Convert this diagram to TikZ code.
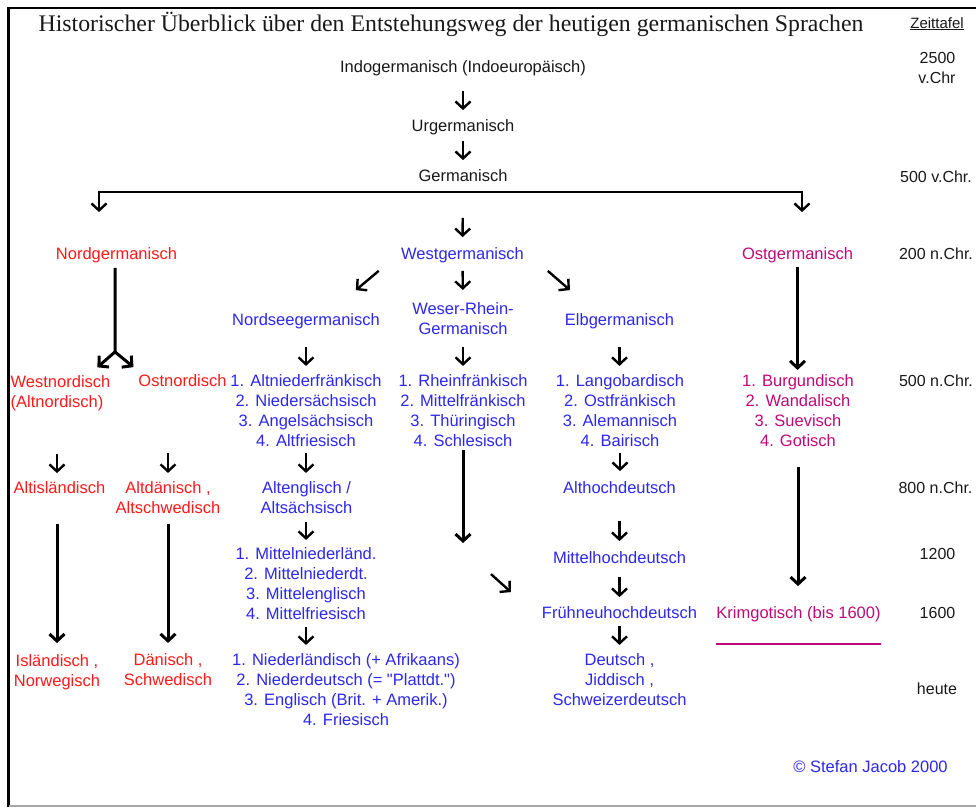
\documentclass[tikz,border=0pt]{standalone}
\usepackage{fontspec}
\setmainfont{Liberation Sans}
\newfontfamily\titlefont{Liberation Serif}
\newfontfamily\qfont{Liberation Sans}
\usetikzlibrary{arrows.meta,calc}
\definecolor{nordc}{RGB}{255,25,25}
\definecolor{westc}{RGB}{45,40,235}
\definecolor{ostc}{RGB}{190,10,120}
\definecolor{timec}{RGB}{25,25,25}
\begin{document}
\begin{tikzpicture}[x=1pt,y=-1pt,
  lbl/.style={inner sep=0pt, outer sep=0pt, font=\fontsize{16.5}{20}\selectfont, align=center},
  one/.style={lbl, text height=11.8pt, text depth=0pt},
  many/.style={lbl},
  nordt/.style={text=nordc}, westt/.style={text=westc}, ostt/.style={text=ostc}, blackt/.style={text=timec},
  timet/.style={one, text=timec, font=\fontsize{16}{20}\selectfont},
  sarr/.style={line width=2.4pt, -{Straight Barb[length=7pt,width=15pt]}},
  larr/.style={line width=3pt, -{Straight Barb[length=7pt,width=15pt]}},
]
\useasboundingbox (0,0) rectangle (976,807);
\fill[white] (0,0) rectangle (976,807);
% frame
\draw[line width=2.5pt] (8.5,807) -- (8.5,8) -- (976,8);
\draw[gray!70, line width=1.5pt] (8.5,806) -- (976,806);

% title and timeline
\node[inner sep=0pt, anchor=base, font=\titlefont\fontsize{23.8}{28}\selectfont, text=timec] (title) at (451,31.5) {Historischer Überblick über den Entstehungsweg der heutigen germanischen Sprachen};
\node[inner sep=0pt, anchor=base, font=\fontsize{15}{16}\selectfont, text=timec] (zt) at (937,28) {\underline{Zeittafel}};
\node[timet] (z2500) at (937.5,57.5) {2500};
\node[timet] (zvchr) at (937,77.5) {v.Chr};
\node[timet] (z500v) at (936,177) {500 v.Chr.};
\node[timet] (z200) at (936,254) {200 n.Chr.};
\node[timet] (z500n) at (936,381) {500 n.Chr.};
\node[timet] (z800) at (935.5,488) {800 n.Chr.};
\node[timet] (z1200) at (937.5,554) {1200};
\node[timet] (z1600) at (937.5,613) {1600};
\node[timet] (zheute) at (937,689) {heute};

% nodes
\node[one,blackt] (indo) at (463,67) {Indogermanisch (Indoeuropäisch)};
\node[one,blackt] (urg) at (463,126) {Urgermanisch};
\node[one,blackt] (germ) at (463,176) {Germanisch};
\node[one,nordt] (nord) at (116.5,254) {Nordgermanisch};
\node[one,westt] (west) at (462.5,254) {Westgermanisch};
\node[one,ostt] (ost) at (797.5,254) {Ostgermanisch};
\node[one,westt] (nordsee) at (306,320) {Nordseegermanisch};
\node[many,westt] (weser) at (463,319) {Weser-Rhein-\\Germanisch};
\node[one,westt] (elb) at (619.5,320) {Elbgermanisch};
\node[many,nordt,anchor=west,align=left] (westnord) at (10.7,393) {Westnordisch\\(Altnordisch)};
\node[one,nordt] (ostnord) at (182.5,381) {Ostnordisch};
\node[many,westt] (altnfr) at (306,411) {1. Altniederfränkisch\\2. Niedersächsisch\\3. Angelsächsisch\\4. Altfriesisch};
\node[many,westt] (rhein) at (463,411) {1. Rheinfränkisch\\2. Mittelfränkisch\\3. Thüringisch\\4. Schlesisch};
\node[many,westt] (lango) at (620,411) {1. Langobardisch\\2. Ostfränkisch\\3. Alemannisch\\4. Bairisch};
\node[many,ostt] (burg) at (798,411) {1. Burgundisch\\2. Wandalisch\\3. Suevisch\\4. Gotisch};
\node[one,nordt] (altisl) at (59.5,488) {Altisländisch};
\node[many,nordt] (altdan) at (168,498) {Altdänisch ,\\Altschwedisch};
\node[many,westt] (alteng) at (306.5,498) {Altenglisch /\\Altsächsisch};
\node[one,westt] (althd) at (619.5,488) {Althochdeutsch};
\node[many,westt] (mittelnl) at (306,584) {1. Mittelniederländ.\\2. Mittelniederdt.\\3. Mittelenglisch\\4. Mittelfriesisch};
\node[one,westt] (mhd) at (619.5,558) {Mittelhochdeutsch};
\node[one,westt] (fnhd) at (619.5,613) {Frühneuhochdeutsch};
\node[one,ostt] (krim) at (798.5,613) {Krimgotisch (bis 1600)};
\node[many,nordt] (isl) at (57,671.75) {Isländisch ,\\Norwegisch};
\node[many,nordt] (dan) at (168,670) {Dänisch ,\\Schwedisch};
\node[many,westt] (nl) at (346,690) {1. Niederländisch (+ Afrikaans)\\2. Niederdeutsch (= {\qfont"}Plattdt.{\qfont"})\\3. Englisch (Brit. + Amerik.)\\4. Friesisch};
\node[many,westt] (deutsch) at (619.5,680) {Deutsch ,\\Jiddisch ,\\Schweizerdeutsch};
\node[one,westt] (copy) at (870.5,767) {© Stefan Jacob 2000};

% connectors
\draw[sarr, shorten <=18pt, shorten >=10pt] (indo.south) -- (urg.north);
\draw[sarr, shorten <=9pt, shorten >=10pt] (urg.south) -- (germ.north);
\coordinate (brL) at (99,192);
\coordinate (brR) at (802,192);
\draw[line width=2.4pt, {Straight Barb[length=7pt,width=15pt]}-{Straight Barb[length=7pt,width=15pt]}, line join=miter, shorten <=36pt, shorten >=36pt] (brL |- nord.north) -- (brL) -- (brR) -- (brR |- ost.north);
\draw[sarr, shorten <=36pt, shorten >=11pt] (germ.south) -- (west.north);
\draw[sarr, shorten <=11pt, shorten >=13pt] (west.south) -- (weser.north);
\draw[sarr] ($(west.south west)+(-22.5,11)$) -- ($(nordsee.north east)+(-24,-24)$);
\draw[sarr] ($(west.south east)+(24,11)$) -- ($(elb.north west)+(5,-24)$);
\draw[sarr, shorten <=21pt, shorten >=9pt] (nordsee.south) -- (nordsee.south |- altnfr.north);
\draw[sarr, shorten <=12pt, shorten >=9pt] (weser.south) -- (rhein.north);
\draw[sarr, shorten <=21pt, shorten >=9pt] (elb.south) -- (elb.south |- lango.north);
\draw[larr, shorten <=7pt, shorten >=5pt] (ost.south) -- (ost.south |- burg.north);
% Nordgermanisch split
\coordinate (nsplit) at ($(nord.south)+(-1.5,92)$);
\draw[larr, line join=miter, shorten <=8pt] (nord.south -| nsplit) -- (nsplit) -- ($(westnord.north east)+(-13,-8)$);
\draw[larr] (nsplit) -- ($(ostnord.north west)+(-5,-8)$);
\draw[sarr, shorten <=43pt, shorten >=9pt] (westnord.south -| isl.north) -- (isl.north |- altisl.north);
\draw[sarr, shorten <=66pt, shorten >=9pt] (ostnord.south -| altdan.north) -- (altdan.north);
\draw[sarr, shorten <=6pt, shorten >=9pt] (altnfr.south) -- (altnfr.south |- alteng.north);
\draw[sarr, shorten <=6pt, shorten >=11pt] (lango.south) -- (lango.south |- althd.north);
\coordinate (rhEnd) at ($(rhein.south)+(0,96)$);
\draw[larr, shorten <=3pt] (rhein.south) -- (rhEnd);
\draw[sarr] ($(fnhd.north west)+(-51,-33)$) -- ($(fnhd.north west)+(-31,-15)$);
\draw[larr, shorten <=20pt, shorten >=21pt] (burg.south) -- (burg.south |- krim.north);
\draw[larr, shorten <=30pt, shorten >=11pt] (altisl.south -| isl.north) -- (isl.north);
\draw[larr, shorten <=10pt, shorten >=11pt] (altdan.south) -- (altdan.south |- dan.north);
\draw[sarr, shorten <=8pt, shorten >=8pt] (mittelnl.north |- alteng.south) -- (mittelnl.north);
\draw[sarr, shorten <=27pt, shorten >=11pt] (althd.south) -- (althd.south |- mhd.north);
\draw[sarr, shorten <=13pt, shorten >=10pt] (mhd.south) -- (fnhd.north);
\draw[sarr, shorten <=7pt, shorten >=9pt] (mittelnl.south) -- (mittelnl.south |- nl.north);
\draw[sarr, shorten <=7pt, shorten >=9pt] (fnhd.south) -- (deutsch.north);
\draw[ostc, line width=1.2pt] ($(krim.south west)+(0,25)$) -- ($(krim.south east)+(0,25)$);
\end{tikzpicture}
\end{document}
